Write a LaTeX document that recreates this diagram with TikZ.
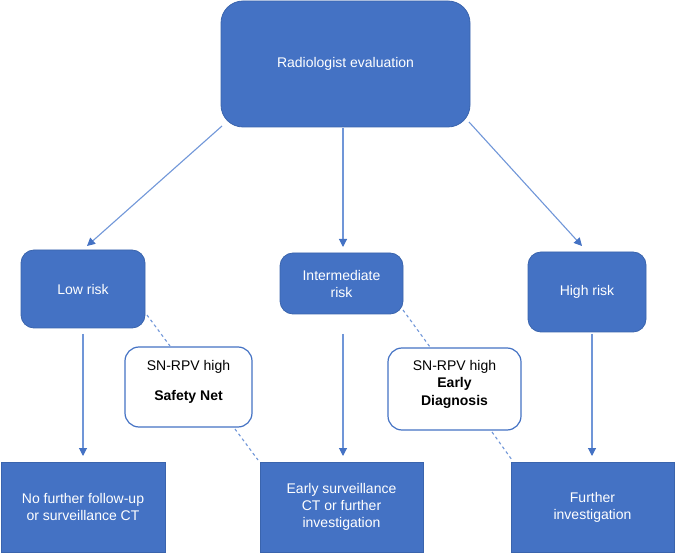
\documentclass[tikz,border=0pt]{standalone}
\usepackage{fontspec}
\setmainfont{Liberation Sans}
\usetikzlibrary{arrows.meta}
\definecolor{boxblue}{HTML}{4472C4}
\definecolor{edgeblue}{HTML}{3A64AD}
\definecolor{lineblue}{HTML}{7096D8}
\definecolor{tipblue}{HTML}{4472C4}
\tikzset{
  bluebox/.style={draw=edgeblue, fill=boxblue, line width=0.8pt, text=white, align=center, font=\fontsize{14}{17}\selectfont, inner sep=0pt},
  snbox/.style={draw=boxblue, fill=white, line width=1.2pt, text=black, align=center, font=\fontsize{14}{18}\selectfont, rounded corners=14pt, inner sep=0pt},
  arr/.style={draw=lineblue, line width=1.1pt, -{Triangle[length=8pt,width=8pt,color=tipblue]}},
  dashln/.style={draw=lineblue, line width=1.1pt, dash pattern=on 3pt off 3pt},
}
\begin{document}
\begin{tikzpicture}[x=1pt,y=-1pt]
\useasboundingbox (0,0) rectangle (675,553);
% top box
\draw[bluebox, rounded corners=22pt] (221,1) rectangle (470,127);
\node[bluebox, draw=none, fill=none] (top) at (345.5,64) {Radiologist evaluation};
\coordinate (topL) at (222,126);
\coordinate (topM) at (343,128);
\coordinate (topR) at (469,122);
% middle boxes
\draw[bluebox, rounded corners=13pt] (21,250) rectangle (145,328);
\node[bluebox, draw=none, fill=none] (low) at (83,289) {Low risk};
\draw[bluebox, rounded corners=13pt] (280,253) rectangle (403,314);
\node[bluebox, draw=none, fill=none] (inter) at (341.5,283.5) {Intermediate\\risk};
\draw[bluebox, rounded corners=13pt] (528,252) rectangle (646,332);
\node[bluebox, draw=none, fill=none] (high) at (587,292) {High risk};
% SN boxes
\draw[snbox] (125,347) rectangle (252,427);
\node[text=black, align=center, font=\fontsize{14}{30}\selectfont] (sn1) at (188.5,382) {SN-RPV high\\\textbf{Safety Net}};
\draw[snbox] (388,348) rectangle (521,430);
\node[text=black, align=center, font=\fontsize{14}{17.5}\selectfont] (sn2) at (454.5,384) {SN-RPV high\\\textbf{Early}\\\textbf{Diagnosis}};
% bottom boxes
\draw[bluebox] (1,462) rectangle (165,552);
\node[bluebox, draw=none, fill=none] (b1) at (83,507) {No further follow-up\\or surveillance CT};
\draw[bluebox] (260,462) rectangle (423,552);
\node[bluebox, draw=none, fill=none] (b2) at (341.5,507) {Early surveillance\\CT or further\\investigation};
\draw[bluebox] (511,462) rectangle (674,552);
\node[bluebox, draw=none, fill=none] (b3) at (592.5,507) {Further\\investigation};
% arrows
\coordinate (lowT) at (87,246);
\coordinate (interT) at (343,247);
\coordinate (highT) at (582,246);
\draw[arr] (topL) -- (lowT);
\draw[arr] (topM) -- (interT);
\draw[arr] (topR) -- (highT);
\coordinate (lowB) at (83,334);
\coordinate (b1T) at (83,456);
\coordinate (interB) at (343,334);
\coordinate (b2T) at (343,456);
\coordinate (highB) at (592,334);
\coordinate (b3T) at (592,456);
\draw[arr] (lowB) -- (b1T);
\draw[arr] (interB) -- (b2T);
\draw[arr] (highB) -- (b3T);
% dashed
\coordinate (d1a) at (147,315);
\coordinate (d1b) at (170,346);
\coordinate (d1c) at (235,429);
\coordinate (d1d) at (258,460);
\coordinate (d2a) at (403,310);
\coordinate (d2b) at (430,347);
\coordinate (d2c) at (492,432);
\coordinate (d2d) at (512,460);
\draw[dashln] (d1a) -- (d1b);
\draw[dashln] (d1c) -- (d1d);
\draw[dashln] (d2a) -- (d2b);
\draw[dashln] (d2c) -- (d2d);
\end{tikzpicture}
\end{document}
